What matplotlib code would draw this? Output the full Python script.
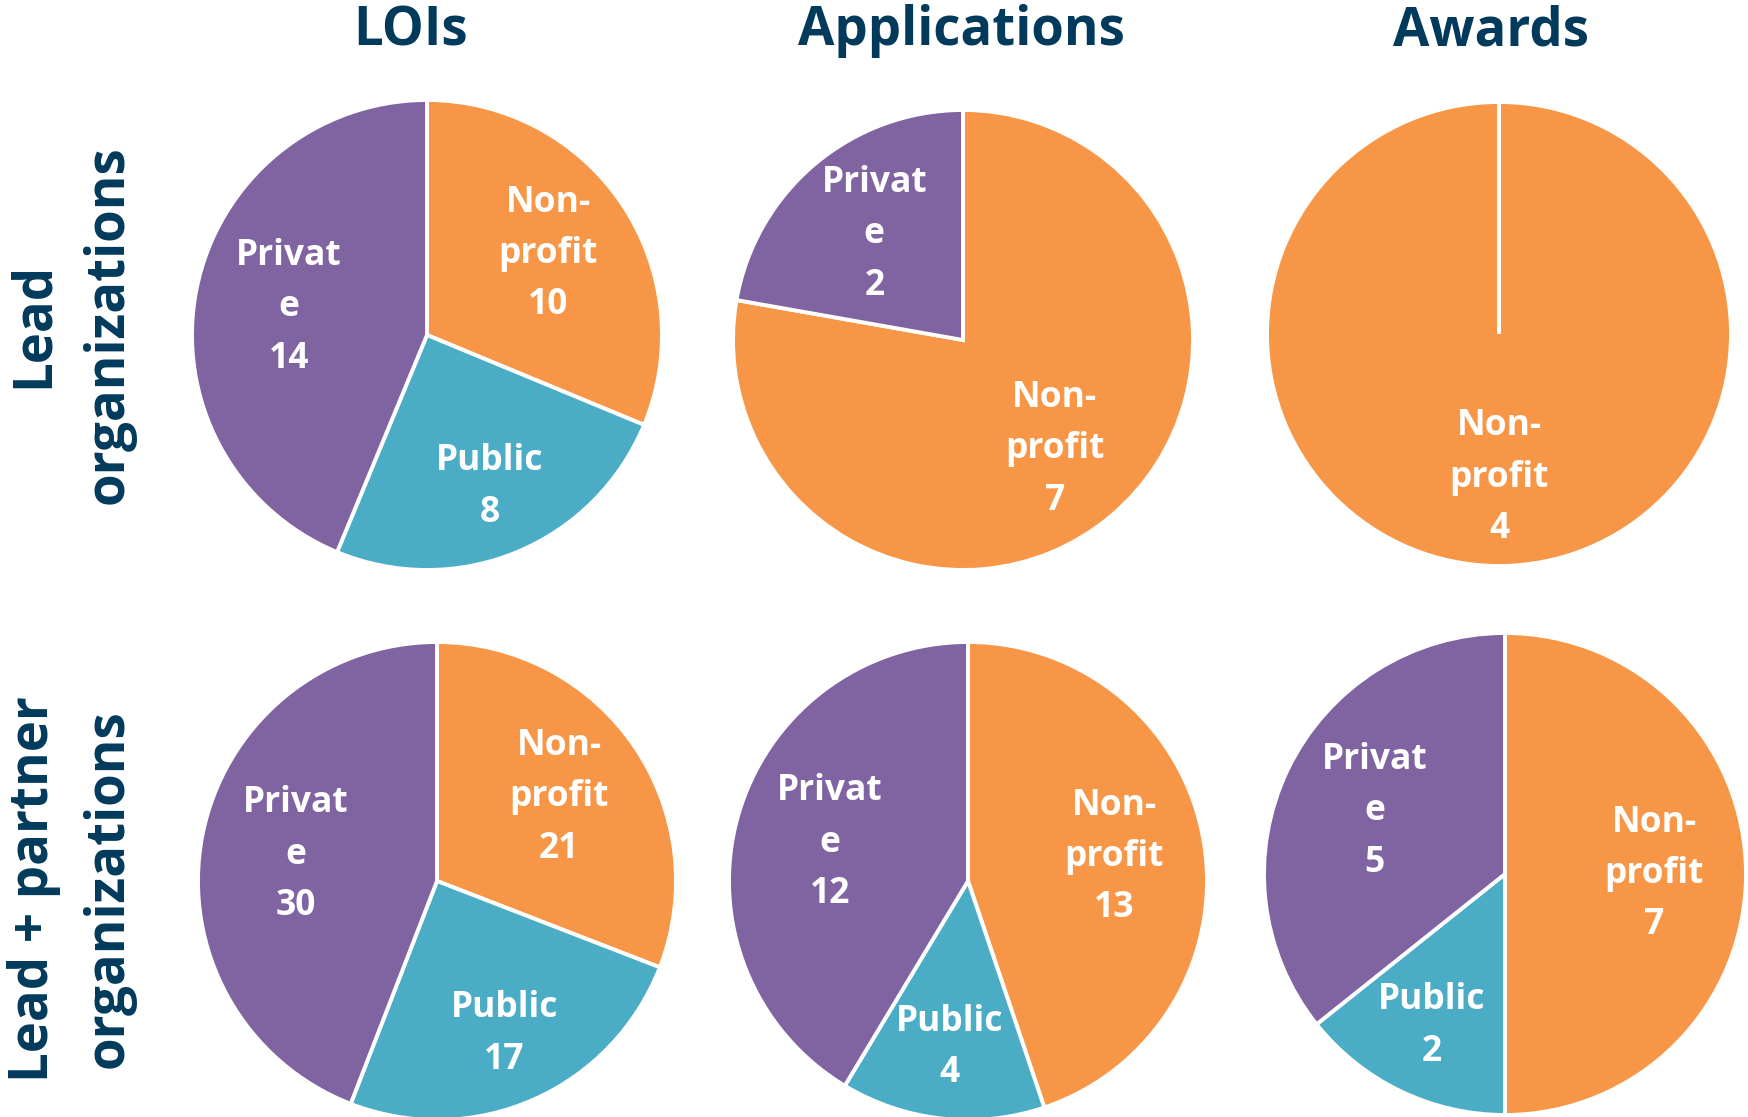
import matplotlib
matplotlib.use("Agg")
import matplotlib.pyplot as plt
import numpy as np

plt.rcParams['font.family'] = ['Open Sans', 'DejaVu Sans']

# ---- data ----
categories = ["Non-profit", "Public", "Private"]
label_fmt = ["Non-\nprofit\n{}", "Public\n{}", "Privat\ne\n{}"]
col_titles = ["LOIs", "Applications", "Awards"]
row_titles = ["Lead\norganizations", "Lead + partner\norganizations"]

lead_lois = [10, 8, 14]
lead_apps = [7, 0, 2]
lead_awards = [4, 0, 0]
partner_lois = [21, 17, 30]
partner_apps = [13, 4, 12]
partner_awards = [7, 2, 5]

data = [[lead_lois, lead_apps, lead_awards],
        [partner_lois, partner_apps, partner_awards]]

colors = ["#F79646", "#4BACC6", "#8064A2"]
navy = "#023A5C"

# ---- layout (pixels in 1749x1117 canvas) ----
W, H = 1749, 1117
centers = [[(427, 335), (963, 340), (1499, 334)],
           [(437, 881), (968, 881), (1505, 874)]]
radii = [[235, 230, 232], [239, 239, 241]]
label_dist = [0.62, 0.7, 0.6]

fig = plt.figure(figsize=(W / 100, H / 100), dpi=100)

for r in range(2):
    for c in range(3):
        cx, cy = centers[r][c]
        rad = radii[r][c]
        m = 1.05
        ax = fig.add_axes([(cx - rad * m) / W, 1 - (cy + rad * m) / H,
                           2 * rad * m / W, 2 * rad * m / H])
        vals = data[r][c]
        idx = [i for i, v in enumerate(vals) if v > 0]
        wedges, _ = ax.pie([vals[i] for i in idx],
                           colors=[colors[i] for i in idx],
                           startangle=90, counterclock=False, radius=1,
                           wedgeprops=dict(edgecolor="white", linewidth=2.8))
        if len(wedges) == 1:
            # a single full wedge: draw its radial edge like the original
            w = wedges[0]
            t1 = np.deg2rad(w.theta1)
            ax.plot([0, w.r * np.cos(t1)], [0, w.r * np.sin(t1)],
                    color="white", lw=2.8, solid_capstyle="butt", zorder=3)
        for w, i in zip(wedges, idx):
            th = np.deg2rad((w.theta1 + w.theta2) / 2)
            d = label_dist[i]
            ax.text(d * np.cos(th), d * np.sin(th), label_fmt[i].format(vals[i]),
                    ha="center", va="center", color="white", fontsize=25.5,
                    fontweight="bold", linespacing=1.57, zorder=4)
        ax.set_xlim(-m, m)
        ax.set_ylim(-m, m)
        ax.set_aspect("equal")
        ax.axis("off")

title_x = [411, 961, 1491]
for t, x in zip(col_titles, title_x):
    fig.text(x / W, 1 - 45 / H, t, ha="center", va="baseline", color=navy,
             fontsize=38, fontweight="bold")

row_y = [325, 889]
for t, y in zip(row_titles, row_y):
    fig.text(71 / W, 1 - y / H, t, ha="center", va="center", rotation=90,
             color=navy, fontsize=38, fontweight="bold", multialignment="center",
             linespacing=1.5)

fig.savefig("out.png", dpi=100, facecolor="white")
